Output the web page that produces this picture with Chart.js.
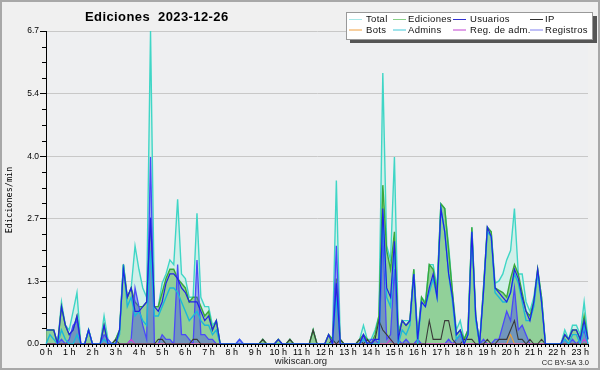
<!DOCTYPE html>
<html>
<head>
<meta charset="utf-8">
<script src="https://cdn.jsdelivr.net/npm/chart.js@4.4.0/dist/chart.umd.min.js"></script>
<style>
  html, body { margin: 0; padding: 0; background: #f0f0f0; }
  #wrap { width: 600px; height: 370px; }
</style>
</head>
<body>
<div id="wrap"><canvas id="c" width="600" height="370"></canvas></div>
<script>
// Edits per minute, 10-minute slots from 00:00 to 23:20.
const slots = [];
for (let h = 0; h < 24; h++) for (let m = 0; m < 60; m += 10) slots.push(h + ':' + String(m).padStart(2, '0'));
slots.length = 141;

const hourLabels = ['0 h','1 h','2 h','3 h','4 h','5 h','6 h','7 h','8 h','9 h','10 h','11 h',
  '12 h','13 h','14 h','15 h','16 h','17 h','18 h','19 h','20 h','21 h','22 h','23 h'];
const yTickValues = [0, 1.34, 2.68, 4.02, 5.36, 6.7];

const total = [
  .3,.3,.3,0,.9,.4,.3,.7,1.1,0,
  0,.3,0,0,0,.6,.1,0,.1,.3,
  1.7,1.0,1.2,2.1,1.6,1.2,1.0,6.7,.8,.8,
  1.3,1.5,1.8,1.7,3.1,1.5,1.4,1.0,1.0,2.8,
  1.0,.8,.8,.4,.5,0,0,0,0,0,
  .1,0,0,0,0,0,.1,0,0,0,
  .1,0,0,.1,0,0,0,0,0,.3,
  0,0,0,.2,.1,3.5,.1,0,0,0,
  0,.1,.4,.1,.1,.3,.6,5.8,2.1,1.8,
  4.0,.3,.5,.5,.5,1.6,.2,1.0,.9,1.7,
  1.7,1.2,3.0,2.9,2.1,1.1,.3,.5,.1,.3,
  2.5,.6,0,1.2,2.5,2.4,1.3,1.35,1.5,1.8,
  2.0,2.9,1.5,1.5,.9,.7,1.0,1.6,1.0,0,
  0,0,0,0,.3,.1,.4,.4,.2,.9,.1
];
const ediciones = [
  .3,.3,.3,0,.8,.4,.2,.3,.6,0,
  0,.3,0,0,0,.4,0,0,.1,.3,
  1.7,1.0,1.2,.9,.8,.8,.9,2.7,.8,.8,
  1.1,1.4,1.6,1.6,1.4,1.3,1.2,.9,1.0,1.0,
  .8,.6,.7,.3,.5,0,0,0,0,0,
  0,0,0,0,0,0,.1,0,0,0,
  .1,0,0,.1,0,0,0,0,0,.3,
  0,0,0,.2,.1,1.4,.1,0,0,0,
  0,.1,.2,.1,0,.2,.6,3.4,2.0,1.6,
  2.4,.2,.5,.4,.5,1.6,.1,1.0,.85,1.7,
  1.6,1.1,3.0,2.9,2.0,1.1,.2,.3,.1,.3,
  2.5,.6,0,1.2,2.5,2.4,1.2,1.15,1.1,1.0,
  1.4,1.7,1.5,1.1,.7,.6,.9,1.6,1.0,0,
  0,0,0,0,.2,.1,.3,.3,.1,.6,.1
];
const usuarios = [
  .3,.3,.3,0,.8,.4,.2,.3,.6,0,
  0,.3,0,0,0,.4,0,0,0,.3,
  1.6,1.0,1.2,.7,.7,.8,.9,2.7,.8,.7,
  .9,1.3,1.5,1.5,1.4,1.2,1.1,.9,.9,.9,
  .7,.5,.6,.3,.5,0,0,0,0,0,
  0,0,0,0,0,0,0,0,0,0,
  .1,0,0,0,0,0,0,0,0,0,
  0,0,0,.2,0,1.3,0,0,0,0,
  0,0,.2,0,0,.1,.1,2.9,1.2,1.0,
  2.2,.1,.5,.4,.5,1.5,.1,.9,.8,1.2,
  1.5,1.0,2.9,2.4,1.5,1.0,.2,.3,0,.2,
  2.4,.6,0,1.1,2.5,2.3,1.2,1.1,1.0,.9,
  1.1,1.6,1.4,1.0,.7,.5,.9,1.6,.9,0,
  0,0,0,0,.2,.1,.3,.3,.1,.5,.1
];
const admins = [
  0,.2,.1,0,.3,.1,0,0,.2,0,
  0,.3,0,0,0,.1,0,0,0,.2,
  1.7,.8,1.0,.6,.7,.5,.4,2.0,.6,.6,
  .8,1.0,1.2,1.2,1.1,.9,.7,.5,.6,.7,
  .5,.4,.4,.2,.3,0,0,0,0,0,
  0,0,0,0,0,0,0,0,0,0,
  0,0,0,0,0,0,0,0,0,0,
  0,0,0,0,0,1.0,0,0,0,0,
  0,0,.1,0,0,0,0,2.8,1.0,.8,
  2.0,0,.3,.2,.4,1.5,0,.9,.8,1.1,
  1.4,1.0,2.9,2.4,1.5,.9,.1,.2,0,.2,
  2.4,.5,0,1.1,2.4,2.3,1.1,1.0,.9,.9,
  1.1,1.5,1.3,.9,.5,.5,.8,1.5,.9,0,
  0,0,0,0,.1,0,.2,.2,0,.4,0
];
const ip = [
  0,0,0,0,0,0,0,0,0,0,
  0,0,0,0,0,0,0,0,.1,0,
  0,0,0,0,0,0,0,0,0,.1,
  .1,0,0,0,0,0,0,0,.1,.1,
  0,0,0,0,0,0,0,0,0,0,
  0,0,0,0,0,0,.1,0,0,0,
  0,0,0,.1,0,0,0,0,0,.3,
  0,0,0,0,.1,0,.1,0,0,0,
  0,.1,0,.1,0,.1,.5,.3,.2,.1,
  0,0,0,0,0,0,0,0,0,.5,
  .1,.1,.1,.5,.5,.1,0,0,.1,.1,
  .1,0,0,0,.1,0,0,.1,.1,.1,
  .3,.5,.1,.1,0,.1,0,0,.1,0,
  0,0,0,0,0,0,0,0,0,0,0
];
const registros = [
  0,0,0,0,.1,0,.1,.4,.5,0,
  0,0,0,0,0,.2,.1,0,0,0,
  0,0,.1,1.2,.8,.4,.1,4.0,0,0,
  .2,.1,.1,0,1.7,.2,.2,.1,0,1.8,
  .2,.2,.1,.1,0,0,0,0,0,0,
  .1,0,0,0,0,0,0,0,0,0,
  0,0,0,0,0,0,0,0,0,0,
  0,0,0,0,0,2.1,0,0,0,0,
  0,0,.2,0,.1,.1,0,2.4,.1,.2,
  1.6,.1,0,.1,0,0,.1,0,0,0,
  0,0,0,0,.1,0,.1,.2,0,0,
  0,0,0,.1,0,0,.1,.1,.4,.7,
  .5,1.2,.3,.4,.2,0,0,0,0,0,
  0,0,0,0,.1,0,.1,0,.1,.3,0
];
// Sparse series: slot index -> value
const botsAt = { 120: .2 };
const regAdmAt = { 22: .1, 89: .1, 139: .1 };
const bots = slots.map((_, i) => botsAt[i] || 0);
const regAdm = slots.map((_, i) => regAdmAt[i] || 0);

function line(label, data, color, width, order, fill) {
  return {
    label, data, borderColor: color, borderWidth: width, order,
    backgroundColor: fill || 'transparent', fill: fill ? 'origin' : false,
    pointRadius: 0, tension: 0
  };
}

const datasets = [
  line('Total', total, '#3fd6c6', 1.4, 8, 'rgba(190,238,228,0.6)'),
  line('Ediciones', ediciones, '#3aa83a', 1.4, 7, 'rgba(110,190,110,0.65)'),
  line('Usuarios', usuarios, '#2222e6', 1.2, 1),
  line('IP', ip, '#3a3a3a', 1.1, 3),
  line('Bots', bots, '#f0a030', 1.1, 5),
  line('Admins', admins, '#1cb8d8', 1.4, 2),
  line('Reg. de adm.', regAdm, '#d040d0', 1.1, 4),
  line('Registros', registros, '#4a4af8', 1.3, 6, 'rgba(70,70,235,0.42)')
];

const legendColors = {
  'Total': '#a8e8e8', 'Ediciones': '#88d088', 'Usuarios': '#3030d0', 'IP': '#303030',
  'Bots': '#f0a040', 'Admins': '#40c8d8', 'Reg. de adm.': '#c040d0', 'Registros': '#8080f0'
};

const backdrop = {
  id: 'backdrop',
  beforeDraw(chart) {
    const { ctx, chartArea: a } = chart;
    ctx.save();
    ctx.fillStyle = '#f0f0f0';
    ctx.fillRect(0, 0, chart.width, chart.height);
    ctx.fillStyle = '#eeeff1';
    ctx.fillRect(a.left, a.top, a.right - a.left, a.bottom - a.top);
    ctx.restore();
  }
};

const decor = {
  id: 'decor',
  afterDraw(chart) {
    const { ctx, chartArea: a } = chart;
    const y = chart.scales.y;
    ctx.save();
    // minor y ticks
    ctx.strokeStyle = '#000';
    ctx.lineWidth = 1;
    for (let k = 1; k < 20; k++) {
      if (k % 4 === 0) continue;
      const py = Math.round(y.getPixelForValue(k * 6.7 / 20)) + 0.5;
      ctx.beginPath(); ctx.moveTo(a.left - 4, py); ctx.lineTo(a.left, py); ctx.stroke();
    }
    // title
    ctx.fillStyle = '#000';
    ctx.font = 'bold 13px "Liberation Sans"';
    ctx.letterSpacing = '0.4px';
    ctx.textBaseline = 'alphabetic';
    ctx.textAlign = 'left';
    ctx.fillText('Ediciones  2023-12-26', 85, 21);
    ctx.letterSpacing = '0px';
    // y title
    ctx.save();
    ctx.translate(12, 200);
    ctx.rotate(-Math.PI / 2);
    ctx.textAlign = 'center';
    ctx.font = '8.5px "DejaVu Sans Mono"';
    ctx.fillText('Ediciones/min', 0, 0);
    ctx.restore();
    // footer
    ctx.font = '9.5px "Liberation Sans"';
    ctx.textAlign = 'center';
    ctx.fillStyle = '#222';
    ctx.fillText('wikiscan.org', 301, 364);
    ctx.font = '7.5px "Liberation Sans"';
    ctx.textAlign = 'right';
    ctx.fillText('CC BY-SA 3.0', 589, 365);
    // legend box
    ctx.fillStyle = '#555';
    ctx.fillRect(350, 16, 247, 27);
    ctx.fillStyle = '#fff';
    ctx.fillRect(346, 12.5, 246, 27);
    ctx.strokeStyle = '#999';
    ctx.strokeRect(346.5, 12.5, 246, 27);
    const order = [['Total', 'Ediciones', 'Usuarios', 'IP'], ['Bots', 'Admins', 'Reg. de adm.', 'Registros']];
    const lineX = [349, 393, 453, 530], textX = [366, 408, 470, 545], rowY = [19, 29.5];
    ctx.font = '9.5px "Liberation Sans"';
    ctx.letterSpacing = '0.3px';
    ctx.textAlign = 'left';
    ctx.textBaseline = 'middle';
    order.forEach((row, r) => row.forEach((name, c) => {
      ctx.strokeStyle = legendColors[name];
      ctx.beginPath(); ctx.moveTo(lineX[c], rowY[r] + 0.5); ctx.lineTo(lineX[c] + 13, rowY[r] + 0.5); ctx.stroke();
      ctx.fillStyle = '#111';
      ctx.fillText(name, textX[c], rowY[r] + 0.5);
    }));
    ctx.letterSpacing = '0px';
    // outer frame
    ctx.strokeStyle = '#a8a8a8';
    ctx.lineWidth = 2;
    ctx.strokeRect(1, 1, chart.width - 2, chart.height - 2);
    ctx.restore();
  }
};

new Chart(document.getElementById('c'), {
  type: 'line',
  data: { labels: slots, datasets },
  options: {
    responsive: false,
    animation: false,
    devicePixelRatio: 1,
    layout: { padding: { top: 31, right: 12, bottom: 0, left: 0 } },
    plugins: { legend: { display: false }, tooltip: { enabled: false } },
    scales: {
      x: {
        type: 'category',
        afterFit(s) { s.height = 26; },
        grid: { drawOnChartArea: false, tickLength: 3, tickColor: '#000' },
        border: { color: '#000', width: 1 },
        ticks: {
          autoSkip: false, maxRotation: 0, padding: 0, color: '#000',
          font: { family: 'Liberation Sans', size: 9 },
          callback: (v, i) => (i % 6 === 0 ? hourLabels[i / 6] : '')
        }
      },
      y: {
        min: 0, max: 6.7,
        afterFit(s) { s.width = 46; },
        afterBuildTicks(s) { s.ticks = yTickValues.map(v => ({ value: v })); },
        grid: { color: '#c8c8c8', tickLength: 6, tickColor: '#000' },
        border: { color: '#000', width: 1 },
        ticks: {
          padding: 1, color: '#000',
          font: { family: 'Liberation Sans', size: 8.5 },
          callback: v => Number(v).toFixed(1)
        }
      }
    }
  },
  plugins: [backdrop, decor]
});
</script>
</body>
</html>
